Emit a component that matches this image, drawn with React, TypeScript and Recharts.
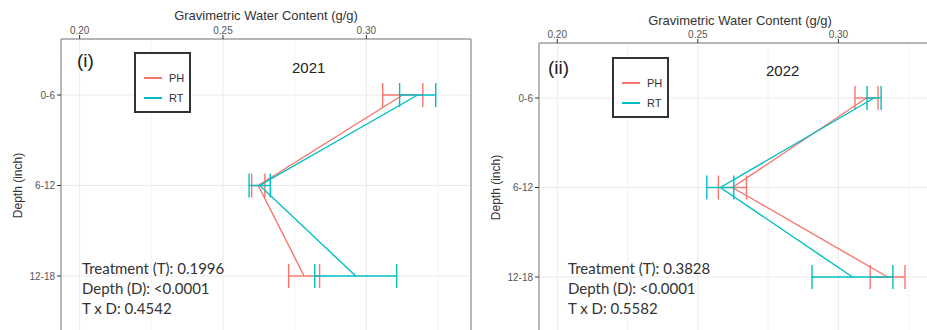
import React from 'react'
import { LineChart, Line, XAxis, YAxis, CartesianGrid, ErrorBar, ReferenceLine, Legend } from 'recharts'

// depth classes (inch), top to bottom
const depths = ['0-6', '6-12', '12-18']

// 2021 means and error (g/g)
const ph2021 = [0.3127, 0.2623, 0.2783]
const ph2021Err = [0.007, 0.0023, 0.0054]
const rt2021 = [0.3179, 0.2628, 0.2963]
const rt2021Err = [0.0063, 0.0037, 0.0143]

// 2022 means and error (g/g)
const ph2022 = [0.31, 0.2623, 0.3175]
const ph2022Err = [0.0041, 0.005, 0.0062]
const rt2022 = [0.3127, 0.258, 0.305]
const rt2022Err = [0.0025, 0.0048, 0.0144]

const xTicks = [0.2, 0.25, 0.3]
const minorTicks = [0.225, 0.275, 0.325]
const xDomain: [number, number] = [0.1935, 0.3365]

const stats2021 = ['Treatment (T): 0.1996', 'Depth (D): <0.0001', 'T x D: 0.4542']
const stats2022 = ['Treatment (T): 0.3828', 'Depth (D): <0.0001', 'T x D: 0.5582']

const PH_COLOR = '#F8766D'
const RT_COLOR = '#00BFC4'
const BORDER = '#a0a0a0'

const buildRows = (ph: number[], phErr: number[], rt: number[], rtErr: number[]) =>
  depths.map((d, i) => ({ depth: d, PH: ph[i], phErr: phErr[i], RT: rt[i], rtErr: rtErr[i] }))

const data2021 = buildRows(ph2021, ph2021Err, rt2021, rt2021Err)
const data2022 = buildRows(ph2022, ph2022Err, rt2022, rt2022Err)

const LegendBox = ({ payload }: any) => (
  <div style={{ width: 57, height: 61, boxSizing: 'border-box', border: '2px solid #333', background: '#fff', paddingTop: 14, paddingLeft: 8 }}>
    {(payload || []).map((entry: any) => (
      <div key={entry.value} style={{ display: 'flex', alignItems: 'center', height: 20 }}>
        <div style={{ width: 18, height: 2, background: entry.color }} />
        <span style={{ marginLeft: 7, fontSize: 11, color: '#333' }}>{entry.value}</span>
      </div>
    ))}
  </div>
)

interface PanelProps {
  data: any[]
  tag: string
  year: string
  stats: string[]
  left: number
  boxWidth: number
  marginLeft: number
  marginTop: number
  titleOffset: number
  padY: number
  legendPos: { left: number; top: number }
  tagPos: { left: number; top: number }
  yearPos: { left: number; top: number }
  statsPos: { left: number; top: number }
}

function Panel(p: PanelProps) {
  return (
    <div style={{ position: 'absolute', left: p.left, top: 0, width: p.boxWidth, height: 330, overflow: 'hidden' }}>
      <LineChart
        width={474}
        height={340}
        data={p.data}
        layout="vertical"
        margin={{ top: p.marginTop, right: 3, bottom: 8, left: p.marginLeft }}
      >
        <CartesianGrid vertical={false} stroke="#ebebeb" />
        {minorTicks.map((v) => (
          <ReferenceLine key={'m' + v} x={v} stroke="#f3f3f3" />
        ))}
        {xTicks.map((v) => (
          <ReferenceLine key={'g' + v} x={v} stroke="#ebebeb" />
        ))}
        <ReferenceLine x={xDomain[1]} stroke={BORDER} strokeWidth={1.5} />
        <XAxis
          type="number"
          orientation="top"
          domain={xDomain}
          allowDataOverflow
          ticks={xTicks}
          tickFormatter={(v: number) => v.toFixed(2)}
          height={20}
          tickSize={4}
          tickMargin={1}
          axisLine={{ stroke: BORDER, strokeWidth: 1.5 }}
          tickLine={{ stroke: '#333' }}
          tick={{ fontSize: 10, fill: '#555' }}
          label={{ value: 'Gravimetric Water Content (g/g)', position: 'top', offset: p.titleOffset, fontSize: 13, fill: '#333' }}
        />
        <YAxis
          type="category"
          dataKey="depth"
          scale="point"
          padding={{ top: p.padY, bottom: p.padY }}
          width={56}
          tickSize={4}
          tickMargin={2}
          axisLine={{ stroke: BORDER, strokeWidth: 1.5 }}
          tickLine={{ stroke: '#333' }}
          tick={{ fontSize: 10, fill: '#555' }}
          label={{ value: 'Depth (inch)', angle: -90, position: 'insideLeft', offset: 13, fontSize: 12, fill: '#333', style: { textAnchor: 'middle' } }}
        />
        <Legend
          layout="horizontal"
          verticalAlign="middle"
          align="center"
          wrapperStyle={{ left: p.legendPos.left, top: p.legendPos.top, width: 57, height: 61 }}
          content={<LegendBox />}
        />
        <Line type="linear" dataKey="PH" name="PH" stroke={PH_COLOR} strokeWidth={1.4} dot={false} isAnimationActive={false}>
          <ErrorBar dataKey="phErr" direction="x" width={12} stroke={PH_COLOR} strokeWidth={1.4} isAnimationActive={false} />
        </Line>
        <Line type="linear" dataKey="RT" name="RT" stroke={RT_COLOR} strokeWidth={1.4} dot={false} isAnimationActive={false}>
          <ErrorBar dataKey="rtErr" direction="x" width={12} stroke={RT_COLOR} strokeWidth={1.4} isAnimationActive={false} />
        </Line>
      </LineChart>
      <div style={{ position: 'absolute', left: p.tagPos.left, top: p.tagPos.top, fontSize: 19, lineHeight: '19px', color: '#222' }}>{p.tag}</div>
      <div style={{ position: 'absolute', left: p.yearPos.left, top: p.yearPos.top, fontSize: 15, lineHeight: '15px', color: '#222' }}>{p.year}</div>
      <div style={{ position: 'absolute', left: p.statsPos.left, top: p.statsPos.top, fontFamily: 'Lato, sans-serif', fontSize: 15, lineHeight: '20px', color: '#333', whiteSpace: 'nowrap' }}>
        {p.stats.map((s) => (
          <div key={s}>{s}</div>
        ))}
      </div>
    </div>
  )
}

export default function App() {
  return (
    <div style={{ position: 'fixed', left: 0, top: 0, width: 927, height: 330, overflow: 'hidden', background: '#fff', fontFamily: '"Liberation Sans", Arial, sans-serif' }}>
      <Panel
        data={data2021}
        tag="(i)"
        year="2021"
        stats={stats2021}
        left={0}
        boxWidth={474}
        marginLeft={5}
        marginTop={19}
        titleOffset={-1}
        padY={56}
        legendPos={{ left: 134, top: 52 }}
        tagPos={{ left: 77, top: 51 }}
        yearPos={{ left: 292, top: 60 }}
        statsPos={{ left: 82, top: 258 }}
      />
      <Panel
        data={data2022}
        tag="(ii)"
        year="2022"
        stats={stats2022}
        left={470}
        boxWidth={457}
        marginLeft={13}
        marginTop={23}
        titleOffset={-2}
        padY={55}
        legendPos={{ left: 142, top: 57 }}
        tagPos={{ left: 78, top: 58 }}
        yearPos={{ left: 296, top: 63 }}
        statsPos={{ left: 98, top: 258 }}
      />
    </div>
  )
}
